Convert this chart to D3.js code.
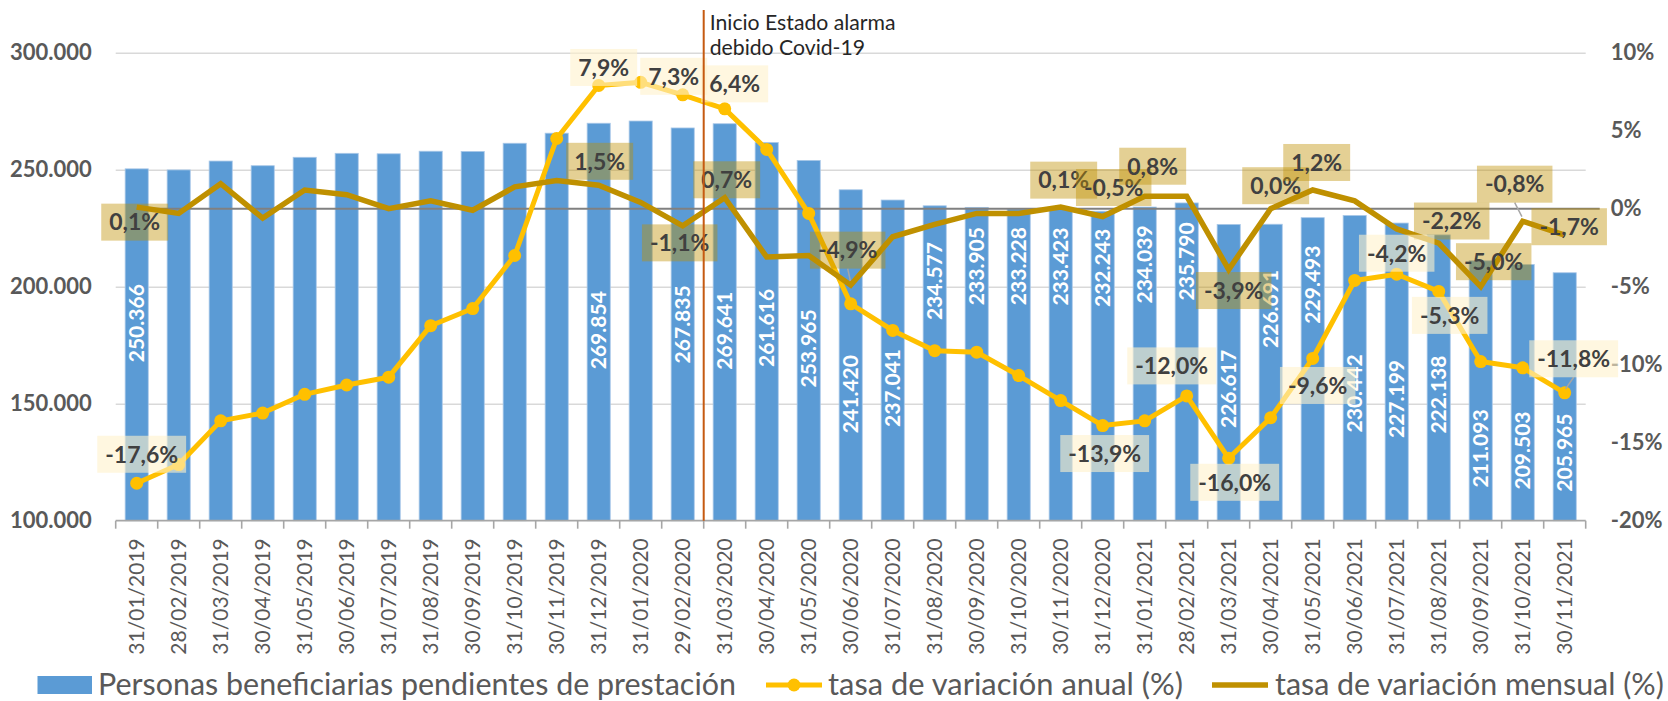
<!DOCTYPE html>
<html><head><meta charset="utf-8">
<script src="https://cdn.jsdelivr.net/npm/d3@7"></script>
<style>
body{margin:0;background:#fff}
svg{display:block}
text{font-family:Lato,"Open Sans",sans-serif}
</style>
</head><body>
<svg id="chart" width="1668" height="701"></svg>
<script>
// ---------------- DATA ----------------
const categories = ["31/01/2019","28/02/2019","31/03/2019","30/04/2019","31/05/2019","30/06/2019","31/07/2019","31/08/2019","30/09/2019","31/10/2019","30/11/2019","31/12/2019",
"31/01/2020","29/02/2020","31/03/2020","30/04/2020","31/05/2020","30/06/2020","31/07/2020","31/08/2020","30/09/2020","31/10/2020","30/11/2020","31/12/2020",
"31/01/2021","28/02/2021","31/03/2021","30/04/2021","31/05/2021","30/06/2021","31/07/2021","31/08/2021","30/09/2021","31/10/2021","30/11/2021"];
const pendientes = [250366,249900,253700,251700,255300,257000,256800,257900,257800,261300,265600,269854,
270800,267835,269641,261616,253965,241420,237041,234577,233905,233228,233423,232243,
234039,235790,226617,226691,229493,230442,227199,222138,211093,209503,205965];
const tasaAnual = [-17.6,-16.4,-13.6,-13.1,-11.9,-11.3,-10.8,-7.5,-6.4,-3.0,4.5,7.9,
8.1,7.3,6.4,3.8,-0.3,-6.1,-7.8,-9.1,-9.2,-10.7,-12.3,-13.9,
-13.6,-12.0,-16.0,-13.4,-9.6,-4.6,-4.2,-5.3,-9.8,-10.2,-11.8];
const tasaMensual = [0.1,-0.3,1.6,-0.6,1.2,0.9,0.0,0.5,-0.1,1.4,1.8,1.5,
0.4,-1.1,0.7,-3.1,-3.0,-4.9,-1.8,-1.0,-0.3,-0.3,0.1,-0.5,
0.8,0.8,-3.9,0.0,1.2,0.5,-1.3,-2.2,-5.0,-0.8,-1.7];
const leftTicks = [100000,150000,200000,250000,300000];
const rightTicks = [-20,-15,-10,-5,0,5,10];
const legendLabels = ["Personas beneficiarias pendientes de prestación","tasa de variación anual (%)","tasa de variación mensual (%)"];
const annotationLines = ["Inicio Estado alarma","debido Covid-19"];
const eventBetween = ["29/02/2020","31/03/2020"];

// which points carry data labels
const barLabelIdx = [0,11,13,14,15,16,17,18,19,20,21,22,23,24,25,26,27,28,29,30,31,32,33,34];
const annualLabelIdx = [0,11,13,14,23,25,26,28,30,31,34];
const monthlyLabelIdx = [0,11,13,14,17,22,23,24,26,27,28,31,32,33,34];

// ---------------- LAYOUT (label placement) ----------------
// vertical centre of rotated bar labels, expressed in left-axis units
const barLabelAt = {0:184400,11:181400,13:183900,14:181200,15:182400,16:173600,17:154100,18:156700,
19:202400,20:208800,21:208800,22:208600,23:208000,24:209500,25:210800,26:156300,27:190500,28:200900,
29:154400,30:152000,31:153900,32:130900,33:130000,34:129100};
// label box centre offsets from data point (px)
const annualOff = {0:[5,-29],11:[5,-18],13:[-9,-18.5],14:[10,-25],23:[2,28],25:[-15,-30],26:[6,24],28:[5,27],30:[0,-21],31:[11,24],34:[9,-34]};
const monthlyOff = {0:[-2,15],11:[1,-24],13:[-3,17],14:[2,-18],17:[-3,-35],22:[3,-27],23:[11,-29],24:[8,-30],26:[5,21],27:[5,-23],28:[4,-27.5],31:[13,-22],32:[13,-25],33:[-8,-37],34:[4.5,-8.5]};
const annualLeader = [34];
const monthlyLeader = [17,33];

// ---------------- SETUP ----------------
const svg = d3.select("#chart");
const L = 115.7, R = 1585.7, T = 52.7, B = 520.7;
const loc = d3.formatLocale({decimal:",", thousands:".", grouping:[3], currency:["","€"], minus:"-"});
const fmtN = loc.format(",.0f");
const fmt1 = loc.format(".1f");
const fmtP = d => loc.format(".0f")(d) + "%";

const x = d3.scaleBand().domain(categories).range([L, R]).paddingInner(0.45).paddingOuter(0.225);
const cx = c => x(c) + x.bandwidth()/2;
const yL = d3.scaleLinear().domain([100000, 300000]).range([B, T]);
const yR = d3.scaleLinear().domain([-20, 10]).range([B, T]);

const axisColor = "#595959";

// gridlines
const grid = svg.append("g").attr("transform", `translate(${L},0)`)
  .call(d3.axisLeft(yL).tickValues(leftTicks.slice(1)).tickSize(-(R - L)).tickFormat(""));
grid.select(".domain").remove();
grid.selectAll("line").attr("stroke", "#D9D9D9").attr("stroke-width", 1.6);

// left axis labels
const gl = svg.append("g").attr("transform", `translate(${L},0)`)
  .call(d3.axisLeft(yL).tickValues(leftTicks).tickSize(0).tickPadding(24).tickFormat(fmtN));
gl.select(".domain").remove();
gl.selectAll("text").attr("font-size", 22).attr("font-weight", 700).attr("fill", axisColor).attr("font-family", "Lato");

// right axis labels
const gr = svg.append("g").attr("transform", `translate(${R},0)`)
  .call(d3.axisRight(yR).tickValues(rightTicks).tickSize(0).tickPadding(25).tickFormat(fmtP));
gr.select(".domain").remove();
gr.selectAll("text").attr("font-size", 22).attr("font-weight", 700).attr("fill", axisColor).attr("font-family", "Lato");

// bars
svg.append("g").selectAll("rect").data(categories).join("rect")
  .attr("x", d => x(d)).attr("width", x.bandwidth())
  .attr("y", (d, i) => yL(pendientes[i])).attr("height", (d, i) => B - yL(pendientes[i]))
  .attr("fill", "#5B9BD5").attr("stroke", "#A9C8E8").attr("stroke-width", 0.8);

// bottom axis
const gx = svg.append("g").attr("transform", `translate(0,${B})`)
  .call(d3.axisBottom(x).tickSize(0).tickSizeOuter(0));
gx.select(".domain").remove();
gx.selectAll("text")
  .attr("transform", "rotate(-90)").attr("x", -17.5).attr("y", 0).attr("dy", "0.36em")
  .attr("text-anchor", "end").attr("font-size", 21).attr("fill", axisColor).attr("font-family", "Lato");
const step = x.step();
const bounds = d3.range(categories.length + 1).map(i => x(categories[0]) - x.paddingOuter() * step + i * step);
svg.append("line").attr("x1", L).attr("x2", R).attr("y1", B).attr("y2", B).attr("stroke", "#A6A6A6").attr("stroke-width", 1.8);
svg.append("g").selectAll("line").data(bounds).join("line")
  .attr("x1", d => d).attr("x2", d => d).attr("y1", B).attr("y2", B + 8)
  .attr("stroke", "#A6A6A6").attr("stroke-width", 1.6);

// zero line (secondary axis)
svg.append("line").attr("x1", cx(categories[0])).attr("x2", R + 14)
  .attr("y1", yR(0)).attr("y2", yR(0)).attr("stroke", "#808080").attr("stroke-width", 2);

// annual line
const lineA = d3.line().x((d, i) => cx(categories[i])).y(d => yR(d));
svg.append("path").datum(tasaAnual).attr("d", lineA)
  .attr("fill", "none").attr("stroke", "#FFC000").attr("stroke-width", 5).attr("stroke-linejoin", "round");
svg.append("g").selectAll("circle").data(tasaAnual).join("circle")
  .attr("cx", (d, i) => cx(categories[i])).attr("cy", d => yR(d)).attr("r", 6.5).attr("fill", "#FFC000");

// monthly line
svg.append("path").datum(tasaMensual).attr("d", lineA)
  .attr("fill", "none").attr("stroke", "#BF9000").attr("stroke-width", 5.5).attr("stroke-linejoin", "miter");

// bar value labels
svg.append("g").selectAll("text").data(barLabelIdx).join("text")
  .attr("transform", i => `translate(${cx(categories[i])},${yL(barLabelAt[i])}) rotate(-90)`)
  .attr("text-anchor", "middle").attr("dy", "0.36em")
  .attr("font-size", 21).attr("font-weight", 700).attr("fill", "#FFFFFF").attr("font-family", "Lato")
  .text(i => fmtN(pendientes[i]));

// leader lines
const leaderG = svg.append("g");
function leader(i, vals, off) {
  const px = cx(categories[i]), py = yR(vals[i]);
  const bx = px + off[i][0], by = py + off[i][1] + (off[i][1] < 0 ? 18.5 : -18.5);
  leaderG.append("line").attr("x1", bx).attr("y1", by).attr("x2", px + (bx - px) * 0.1).attr("y2", py + (by - py) * 0.25)
    .attr("stroke", "#A6A6A6").attr("stroke-width", 1.5);
}
annualLeader.forEach(i => leader(i, tasaAnual, annualOff));
monthlyLeader.forEach(i => leader(i, tasaMensual, monthlyOff));

// line data labels
function labels(idx, vals, off, fill, op) {
  const g = svg.append("g");
  idx.forEach(i => {
    const px = cx(categories[i]) + off[i][0], py = yR(vals[i]) + off[i][1];
    const gg = g.append("g").attr("transform", `translate(${px},${py})`);
    const r = gg.append("rect");
    const t = gg.append("text").attr("text-anchor", "middle").attr("dy", "0.36em")
      .attr("font-size", 23).attr("font-weight", 700).attr("fill", "#404040").attr("font-family", "Lato")
      .text(fmt1(vals[i]) + "%");
    const w = t.node().getComputedTextLength() + 16;
    r.attr("x", -w / 2).attr("y", -18.5).attr("width", w).attr("height", 37).attr("fill", fill).attr("fill-opacity", op);
  });
}
labels(monthlyLabelIdx, tasaMensual, monthlyOff, "#BF9000", 0.42);
labels(annualLabelIdx, tasaAnual, annualOff, "#FFF2CC", 0.6);

// event vertical line between two months
const vx = (cx(eventBetween[0]) + cx(eventBetween[1])) / 2;
svg.append("line").attr("x1", vx).attr("x2", vx).attr("y1", 10).attr("y2", B)
  .attr("stroke", "#C55A11").attr("stroke-width", 2);
function fit(t, target) {
  const w = t.node().getComputedTextLength();
  const fs = parseFloat(t.attr("font-size")) * target / w;
  t.attr("font-size", fs);
  return fs;
}
let annFs = 20;
annotationLines.forEach((s, k) => {
  const t = svg.append("text").attr("x", vx + 6).attr("y", 30 + k * 25)
    .attr("font-size", annFs).attr("fill", "#262626").attr("font-family", "Lato").text(s);
  if (k === 0) annFs = fit(t, 186);
});

// legend
const lg = svg.append("g");
const ly = 685;
lg.append("rect").attr("x", 37.5).attr("y", ly - 9).attr("width", 54.5).attr("height", 18).attr("fill", "#5B9BD5");
const lt1 = lg.append("text").attr("x", 98).attr("y", ly + 10).attr("font-size", 26).attr("fill", axisColor).text(legendLabels[0]);
fit(lt1, 638);
lg.append("line").attr("x1", 766).attr("x2", 822).attr("y1", ly).attr("y2", ly).attr("stroke", "#FFC000").attr("stroke-width", 5);
lg.append("circle").attr("cx", 794).attr("cy", ly).attr("r", 6.5).attr("fill", "#FFC000");
const lt2 = lg.append("text").attr("x", 828).attr("y", ly + 10).attr("font-size", 26).attr("fill", axisColor).text(legendLabels[1]);
fit(lt2, 355);
lg.append("line").attr("x1", 1212).attr("x2", 1268).attr("y1", ly).attr("y2", ly).attr("stroke", "#BF9000").attr("stroke-width", 5.5);
const lt3 = lg.append("text").attr("x", 1275).attr("y", ly + 10).attr("font-size", 26).attr("fill", axisColor).text(legendLabels[2]);
fit(lt3, 389);
</script>
</body></html>
